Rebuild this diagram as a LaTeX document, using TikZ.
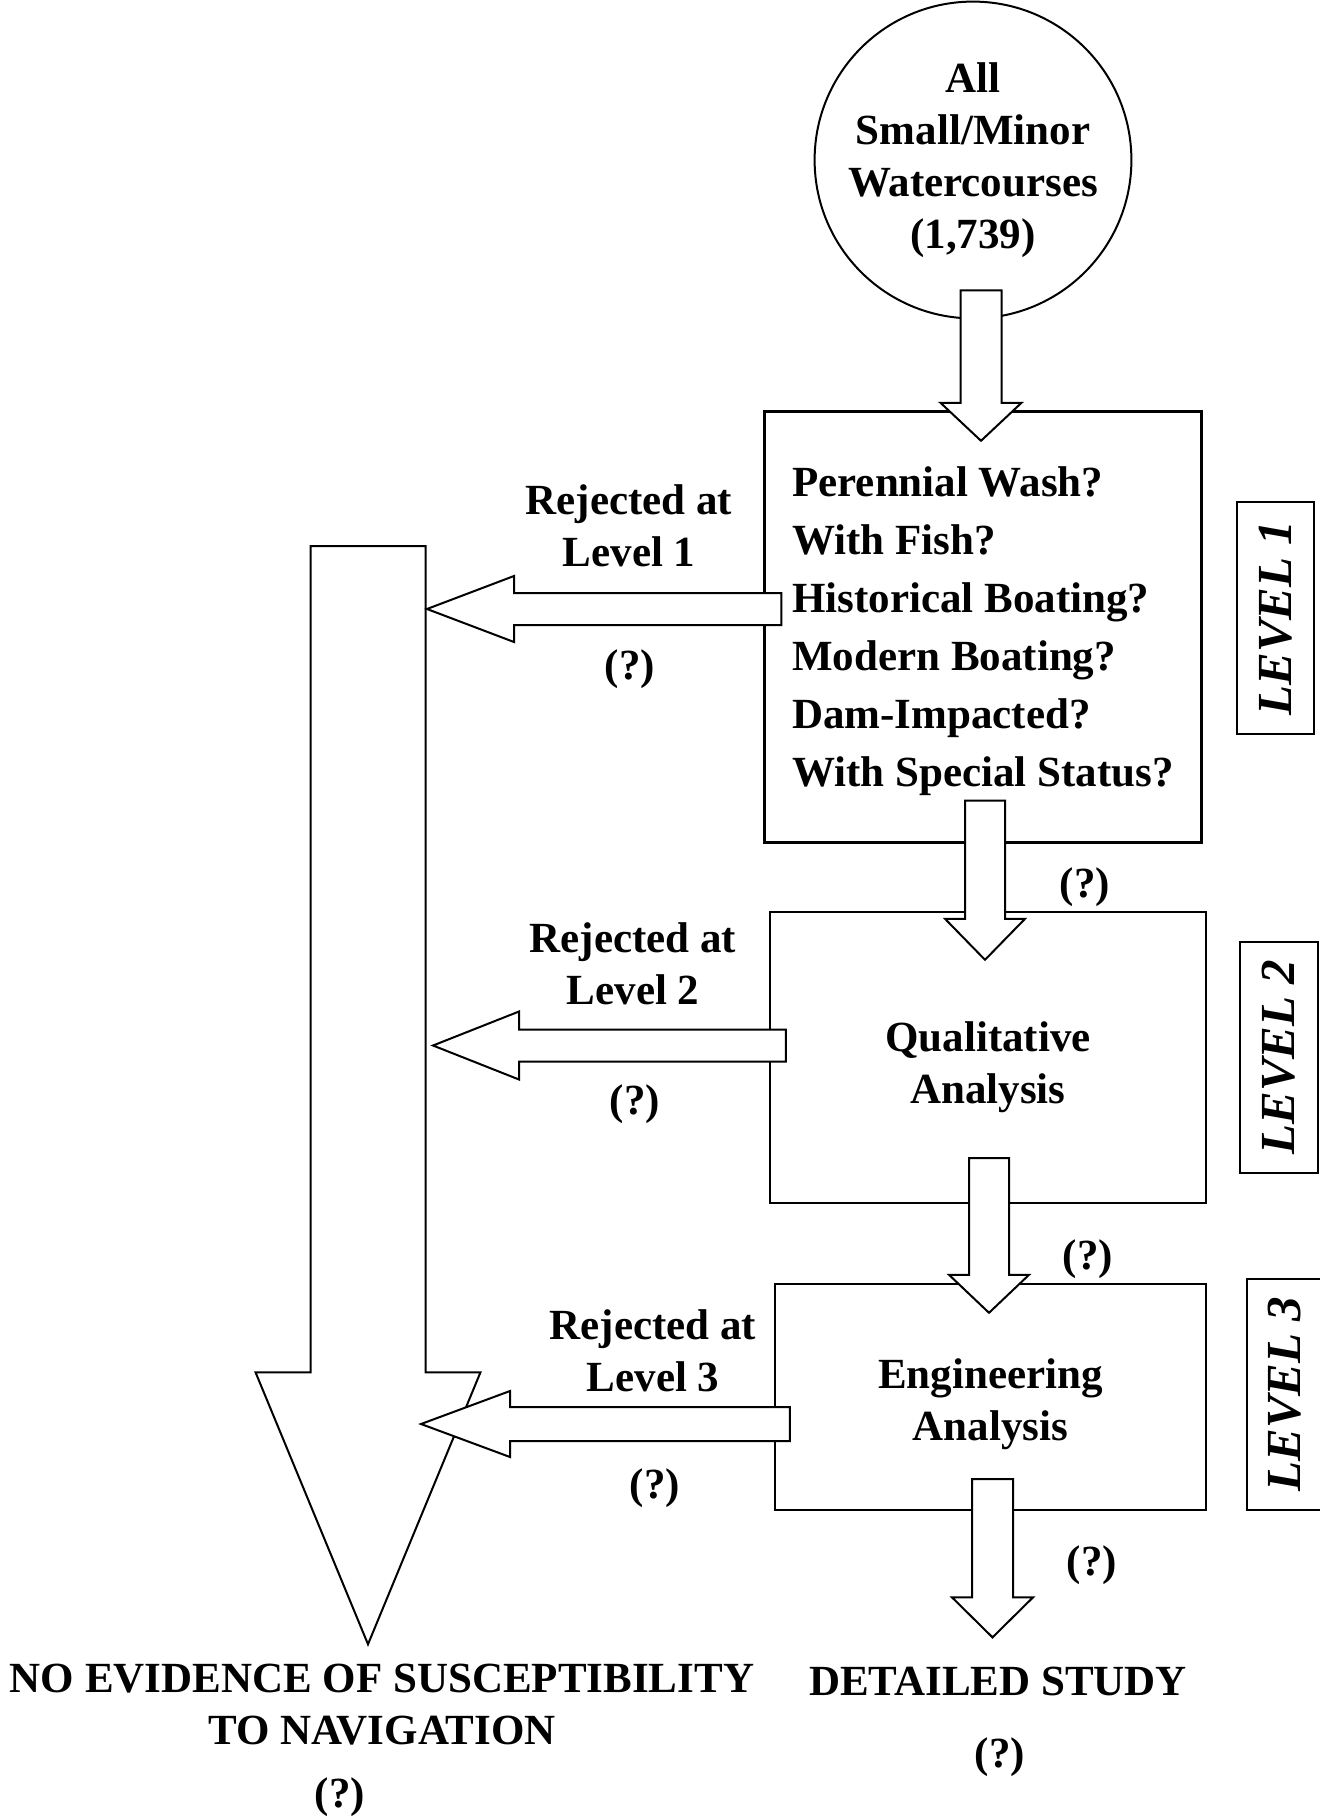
\documentclass[tikz,border=0pt]{standalone}
\usepackage{fontspec}
\setmainfont{Liberation Serif}
\usepackage{tikz}
\usetikzlibrary{positioning,calc}
\newcommand{\blokarrow}[6]{%
\coordinate (#6-b) at ($(#2)!#5!(#1)$);
\draw[blok] ($(#1)!#3!90:(#2)$) -- ($(#6-b)!#3!90:(#2)$) -- ($(#6-b)!#4!90:(#2)$) -- (#2)
  -- ($(#6-b)!#4!-90:(#2)$) -- ($(#6-b)!#3!-90:(#2)$) -- ($(#1)!#3!-90:(#2)$) -- cycle;
}
\tikzset{%
  blok/.style={draw,fill=white,line width=2pt,line join=miter},
  txt/.style={font=\fontsize{43}{52}\selectfont\bfseries,align=center,inner sep=0pt},
  stage/.style={draw,line width=2.4pt,inner sep=0pt},
  lvl/.style={%
    draw,line width=2pt,rotate=90,inner sep=0pt,
    font=\fontsize{49}{52}\selectfont\bfseries\itshape
  }
}

\begin{document}
\begin{tikzpicture}[x=1pt,y=-1pt]
\useasboundingbox (0,0) rectangle (1319,1819);

\node[txt,draw,circle,line width=2pt,minimum size=314pt] (src) at (973,160)
  {All\\Small/Minor\\Watercourses\\(1,739)};
\node[stage,minimum width=437pt,minimum height=431pt] (box1) at (983,627) {};
\node[stage,minimum width=436pt,minimum height=291pt] (box2) at (988,1057.5) {};
\node[stage,minimum width=431pt,minimum height=226pt] (box3) at (990.5,1397) {};
\node[txt,align=left,font=\fontsize{43}{58}\selectfont\bfseries] (tests) at ($(box1.center)+(0,4)$)
  {Perennial Wash?\\With Fish?\\Historical Boating?\\Modern Boating?\\Dam-Impacted?\\With Special Status?};
\node[txt] (qual) at ($(box2.center)+(0,10)$) {Qualitative\\Analysis};
\node[txt] (engr) at ($(box3.center)+(0,7)$) {Engineering\\Analysis};

\node[lvl,minimum width=232pt,minimum height=77pt] (tag1) at (1275.5,618) {LEVEL 1};
\node[lvl,minimum width=231pt,minimum height=78pt] (tag2) at (1279,1057) {LEVEL 2};
\node[lvl,minimum width=231pt,minimum height=76pt] (tag3) at (1285,1394) {LEVEL 3};

\node[txt] (rej1) at (629,526) {Rejected at\\Level 1};
\node[txt] (rej2) at (633,964) {Rejected at\\Level 2};
\node[txt] (rej3) at (653,1351) {Rejected at\\Level 3};
\node[txt] (qrej1) at (630,669) {(?)};
\node[txt] (qrej2) at (635,1104) {(?)};
\node[txt] (qrej3) at (655,1488) {(?)};
\node[txt] (qpass1) at (1085,887) {(?)};
\node[txt] (qpass2) at (1088,1259) {(?)};
\node[txt] (qpass3) at (1092,1565) {(?)};

\node[txt] (noev) at (382,1705) {NO EVIDENCE OF SUSCEPTIBILITY\\TO NAVIGATION};
\node[txt] (qnoev) at (340,1797) {(?)};
\node[txt] (study) at (998,1681) {DETAILED STUDY};
\node[txt] (qstudy) at (1000,1757) {(?)};

% down the levels
\coordinate (dn0) at ($(src.south)+(8,-29)$);
\coordinate (dn0t) at ($(dn0 |- box1.north)+(0,30.5)$);
\coordinate (dn1) at ($(box1.south)+(2,-43)$);
\coordinate (dn1t) at ($(dn1 |- box2.north)+(0,49)$);
\coordinate (dn2) at ($(box2.south)+(1,-46)$);
\coordinate (dn2t) at ($(dn2 |- box3.north)+(0,30)$);
\coordinate (dn3) at ($(box3.south)+(2,-32)$);
\coordinate (dn3t) at ($(dn3 |- study.north)+(0,-29)$);
\blokarrow{dn0}{dn0t}{20.5pt}{40.5pt}{38pt}{a0}
\blokarrow{dn1}{dn1t}{20pt}{40pt}{41pt}{a1}
\blokarrow{dn2}{dn2t}{20pt}{40pt}{38pt}{a2}
\blokarrow{dn3}{dn3t}{20.5pt}{40.5pt}{40pt}{a3}

% rejected
\coordinate (big) at (368,546);
\coordinate (bigt) at ($(big |- noev.north)+(0,-20)$);
\blokarrow{big}{bigt}{57.5pt}{112.5pt}{272pt}{ab}
\coordinate (rj1) at ($(box1.west)+(18,-18)$);
\coordinate (rj1t) at ($(rj1 -| big)+(59,0)$);
\coordinate (rj2) at ($(box2.west)+(17,-12)$);
\coordinate (rj2t) at ($(rj2 -| big)+(65,0)$);
\coordinate (rj3) at ($(box3.west)+(16,27)$);
\coordinate (rj3t) at ($(rj3 -| big)+(53,0)$);
\blokarrow{rj1}{rj1t}{16pt}{33pt}{87pt}{r1}
\blokarrow{rj2}{rj2t}{16pt}{34pt}{86pt}{r2}
\blokarrow{rj3}{rj3t}{17pt}{33pt}{89pt}{r3}
\end{tikzpicture}
\end{document}
